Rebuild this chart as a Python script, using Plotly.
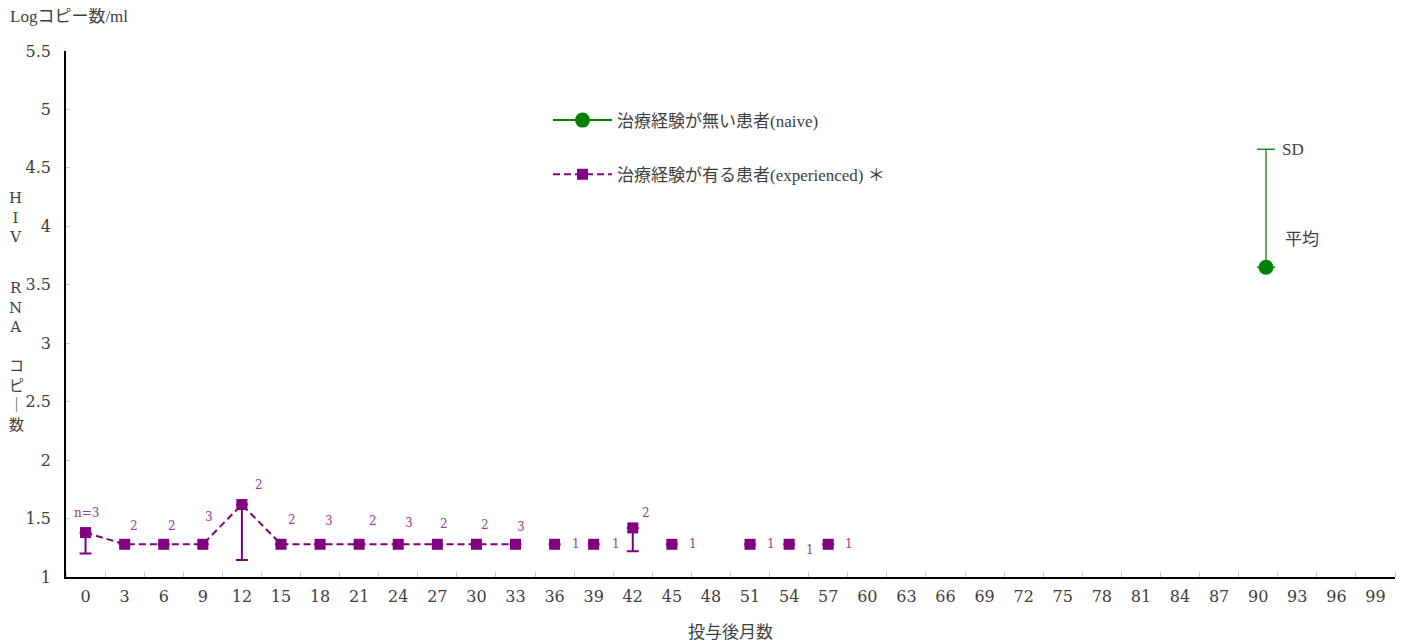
import plotly.graph_objects as go

# ---- data ----
months_tick = list(range(0, 100, 3))
exp_line_x = [0, 3, 6, 9, 12, 15, 18, 21, 24, 27, 30, 33]
exp_line_y = [1.38, 1.28, 1.28, 1.28, 1.62, 1.28, 1.28, 1.28, 1.28, 1.28, 1.28, 1.28]
exp_line_err = [0.18, 0, 0, 0, 0.475, 0, 0, 0, 0, 0, 0, 0]
exp_line_n = ["n=3", "2", "2", "3", "2", "2", "3", "2", "3", "2", "2", "3"]

exp_pt_x = [36, 39, 42, 45, 51, 54, 57]
exp_pt_y = [1.28, 1.28, 1.42, 1.28, 1.28, 1.28, 1.28]
exp_pt_err = [0, 0, 0.20, 0, 0, 0, 0]
exp_pt_n = ["1", "1", "2", "1", "1", "1", "1"]

naive_x = [90.6]
naive_mean = [3.65]
naive_sd = [1.01]

FONT = "Liberation Serif, 'Noto Sans CJK JP', serif"
NUMFONT = "'DejaVu Serif', 'Noto Sans CJK JP', serif"
PURPLE = "#800080"
GREEN = "#008000"
TXT = "#404040"

fig = go.Figure()

fig.add_trace(go.Scatter(
    x=naive_x, y=naive_mean, mode="lines+markers",
    name="治療経験が無い患者(naive)",
    line=dict(color=GREEN, width=2),
    marker=dict(symbol="circle", size=15, color=GREEN),
    error_y=dict(type="data", array=naive_sd, arrayminus=[0], color="#228b22",
                 thickness=1.4, width=9),
    legendgroup="a",
))

fig.add_trace(go.Scatter(
    x=exp_line_x, y=exp_line_y, mode="lines+markers",
    name="治療経験が有る患者(experienced) ＊",
    line=dict(color=PURPLE, width=2, dash="7px,4px"),
    marker=dict(symbol="square", size=11, color=PURPLE),
    error_y=dict(type="data", array=[0] * len(exp_line_x), arrayminus=exp_line_err,
                 color=PURPLE, thickness=2, width=6),
    legendgroup="b",
))
fig.add_trace(go.Scatter(
    x=exp_pt_x, y=exp_pt_y, mode="markers",
    name="治療経験が有る患者(experienced) ＊",
    marker=dict(symbol="square", size=11, color=PURPLE),
    error_y=dict(type="data", array=[0] * len(exp_pt_x), arrayminus=exp_pt_err,
                 color=PURPLE, thickness=2, width=6),
    legendgroup="b", showlegend=False,
))

# n labels (pixel offsets relative to each point)
line_shifts = [(1, 20), (9, 18), (8, 18), (6, 27), (17, 20), (11, 24), (9, 23),
               (14, 23), (11, 21), (7, 20), (9, 19), (5, 17)]
pt_shifts = [(21, 0), (22, 0), (13, 15), (21, 0), (21, 0), (21, -6), (21, 0)]
anns = []
for x, y, t, (dx, dy) in zip(exp_line_x + exp_pt_x, exp_line_y + exp_pt_y,
                              exp_line_n + exp_pt_n, line_shifts + pt_shifts):
    anns.append(dict(x=x, y=y, xref="x", yref="y", text=t, showarrow=False,
                     xshift=dx, yshift=dy, font=dict(size=12, color="#9b3a9b", family=NUMFONT)))

anns += [
    dict(x=naive_x[0], y=naive_mean[0] + naive_sd[0], xref="x", yref="y", text="SD",
         showarrow=False, xanchor="left", xshift=14, font=dict(size=17, color=TXT, family=FONT)),
    dict(x=naive_x[0], y=naive_mean[0], xref="x", yref="y", text="平均",
         showarrow=False, xanchor="left", xshift=17, yshift=28,
         font=dict(size=17, color=TXT, family=FONT)),
    dict(x=0, y=1, xref="paper", yref="paper", text="Logコピー数/ml", showarrow=False,
         xanchor="left", yanchor="middle", xshift=-58, yshift=35,
         font=dict(size=17, color=TXT, family=FONT)),
    dict(x=0.5, y=0, xref="paper", yref="paper", text="投与後月数", showarrow=False,
         xanchor="center", yanchor="middle", yshift=-55,
         font=dict(size=17, color=TXT, family=FONT)),
    dict(x=0, y=(577 - 217) / 526, xref="paper", yref="paper", text="H<br>I<br>V",
         showarrow=False, xanchor="center", yanchor="middle", xshift=-51,
         font=dict(size=15, color=TXT, family=NUMFONT)),
    dict(x=0, y=(577 - 307) / 526, xref="paper", yref="paper", text="R<br>N<br>A",
         showarrow=False, xanchor="center", yanchor="middle", xshift=-51,
         font=dict(size=15, color=TXT, family=NUMFONT)),
    dict(x=0, y=(577 - 395) / 526, xref="paper", yref="paper", text="コ<br>ピ<br>｜<br>数",
         showarrow=False, xanchor="center", yanchor="middle", xshift=-50,
         font=dict(size=15, color=TXT, family=FONT)),
]

fig.update_layout(
    width=1396, height=635,
    margin=dict(l=58, r=9, t=43, b=66),
    plot_bgcolor="white", paper_bgcolor="white",
    font=dict(family=FONT, color=TXT, size=17),
    showlegend=True,
    legend=dict(x=0.3627, y=0.902, xanchor="left", yanchor="top",
                bgcolor="rgba(0,0,0,0)", itemwidth=59, tracegroupgap=29,
                font=dict(size=17, color=TXT, family=FONT)),
    annotations=anns,
    xaxis=dict(range=[-1.5, 100.5], tickmode="array", tickvals=months_tick,
               ticktext=[str(m) for m in months_tick], ticks="", showgrid=False,
               zeroline=False, showline=True, linecolor="black", linewidth=1.5,
               tickfont=dict(size=16, color=TXT, family=NUMFONT), ticklabelstandoff=4,
               automargin=False,
               minor=dict(tick0=1.5, dtick=3, ticks="inside", ticklen=5,
                          tickcolor="#c8c8c8", showgrid=False)),
    yaxis=dict(range=[1, 5.5], tickmode="array",
               tickvals=[1, 1.5, 2, 2.5, 3, 3.5, 4, 4.5, 5, 5.5],
               ticktext=["1", "1.5", "2", "2.5", "3", "3.5", "4", "4.5", "5", "5.5"],
               ticks="inside", ticklen=4, tickcolor="#c8c8c8", showgrid=False,
               zeroline=False, showline=True, linecolor="black", linewidth=1.5,
               automargin=False,
               tickfont=dict(size=16, color=TXT, family=NUMFONT), ticklabelstandoff=10),
)

fig.write_html("out.html")
